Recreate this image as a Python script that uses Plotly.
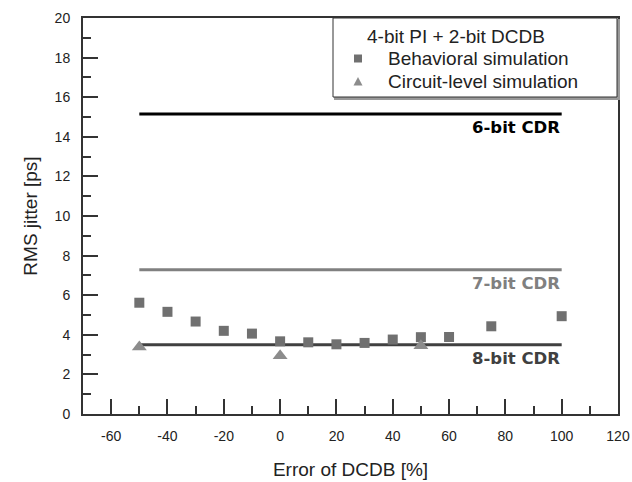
import plotly.graph_objects as go

# Behavioral simulation (squares)
beh_x = [-50, -40, -30, -20, -10, 0, 10, 20, 30, 40, 50, 60, 75, 100]
beh_y = [5.62, 5.16, 4.67, 4.20, 4.06, 3.67, 3.62, 3.52, 3.59, 3.76, 3.88, 3.89, 4.43, 4.94]

# Circuit-level simulation (triangles)
cir_x = [-50, 0, 50]
cir_y = [3.38, 2.94, 3.45]

# Reference CDR jitter levels
cdr_labels = ["6-bit CDR", "7-bit CDR", "8-bit CDR"]
cdr_levels = [15.15, 7.28, 3.50]
cdr_colors = ["#000000", "#808080", "#404040"]
cdr_span = [-50, 100]

x_ticks = [-60, -40, -20, 0, 20, 40, 60, 80, 100, 120]
x_tick_labels = ["-60", "-40", "-20", "0", "20", "40", "60", "80", "100", "120"]
y_ticks = [0, 2, 4, 6, 8, 10, 12, 14, 16, 18, 20]
y_tick_labels = ["0", "2", "4", "6", "8", "10", "12", "14", "16", "18", "20"]

legend_title = "4-bit PI + 2-bit DCDB"
series_names = ["Behavioral simulation", "Circuit-level simulation"]
series_colors = ["#707070", "#8c8c8c"]

W, H = 632, 482
ML, MR, MT, MB = 83, 14, 18, 68
PW, PH = W - ML - MR, H - MT - MB


def px(xp):
    return (xp - ML) / PW


def py(yp):
    return (H - MB - yp) / PH


fig = go.Figure()

for lab, lvl, col in zip(cdr_labels, cdr_levels, cdr_colors):
    fig.add_trace(go.Scatter(
        x=cdr_span, y=[lvl, lvl], mode="lines",
        line=dict(color=col, width=3), showlegend=False, hoverinfo="skip"))
    fig.add_annotation(
        x=cdr_span[1], y=lvl, text="<b>%s</b>" % lab, showarrow=False,
        xanchor="right", yanchor="top", yshift=-2,
        font=dict(family="DejaVu Sans", size=16.5, color=col))

fig.add_trace(go.Scatter(
    x=beh_x, y=beh_y, mode="markers", name=series_names[0], showlegend=False,
    marker=dict(symbol="square", size=10, color=series_colors[0])))
fig.add_trace(go.Scatter(
    x=cir_x, y=cir_y, mode="markers", name=series_names[1], showlegend=False,
    marker=dict(symbol="triangle-up", size=13, color=series_colors[1])))

axis_common = dict(
    showline=True, mirror=True, linecolor="#333333", linewidth=2,
    ticks="inside", ticklen=15, tickwidth=2, tickcolor="#333333",
    showgrid=False, zeroline=False, automargin=False,
    tickfont=dict(family="Liberation Sans", size=14, color="#222222"),
)

fig.update_xaxes(
    range=[-70, 120], tickvals=x_ticks, ticktext=x_tick_labels,
    minor=dict(ticks="inside", ticklen=8, tickwidth=2, tickcolor="#333333", dtick=10, tick0=0),
    title=dict(text="Error of DCDB [%]", font=dict(family="Liberation Sans", size=19, color="#222222"), standoff=20),
    ticklabelstandoff=8,
    **axis_common)
fig.update_yaxes(
    range=[0, 20], tickvals=y_ticks, ticktext=y_tick_labels,
    minor=dict(ticks="inside", ticklen=8, tickwidth=2, tickcolor="#333333", dtick=1, tick0=0),
    title=dict(text="RMS jitter [ps]", font=dict(family="Liberation Sans", size=19, color="#222222"), standoff=12),
    ticklabelstandoff=8,
    **axis_common)

# Custom legend box (drawn to match the reference's compact layout)
fig.add_shape(type="rect", xref="paper", yref="paper",
              x0=px(335), x1=px(619), y0=py(99), y1=py(20),
              line=dict(color="#999999", width=2), fillcolor="#999999", layer="above")
fig.add_shape(type="rect", xref="paper", yref="paper",
              x0=px(333), x1=px(617), y0=py(97), y1=1,
              line=dict(color="#333333", width=1), fillcolor="white", layer="above")
fig.add_annotation(xref="paper", yref="paper", x=px(455.5), y=py(36.5),
                   text=legend_title, showarrow=False, xanchor="center", yanchor="middle",
                   font=dict(family="Liberation Sans", size=19, color="#222222"))
fig.add_annotation(xref="paper", yref="paper", x=px(386), y=py(58.5),
                   text=series_names[0], showarrow=False, xanchor="left", yanchor="middle",
                   font=dict(family="Liberation Sans", size=19, color="#222222"))
fig.add_annotation(xref="paper", yref="paper", x=px(386), y=py(81.5),
                   text=series_names[1], showarrow=False, xanchor="left", yanchor="middle",
                   font=dict(family="Liberation Sans", size=19, color="#222222"))
fig.add_shape(type="rect", xref="paper", yref="paper",
              x0=px(354), x1=px(362), y0=py(62.5), y1=py(54.5),
              line=dict(width=0), fillcolor=series_colors[0], layer="above")
fig.add_shape(type="path", xref="paper", yref="paper",
              path="M %f %f L %f %f L %f %f Z" % (px(353.5), py(85.5), px(362.5), py(85.5), px(358), py(77)),
              line=dict(width=0), fillcolor=series_colors[1], layer="above")

fig.update_layout(
    width=W, height=H,
    margin=dict(l=ML, r=MR, t=MT, b=MB),
    plot_bgcolor="white", paper_bgcolor="white",
    showlegend=False,
)

fig.write_html("out.html")
